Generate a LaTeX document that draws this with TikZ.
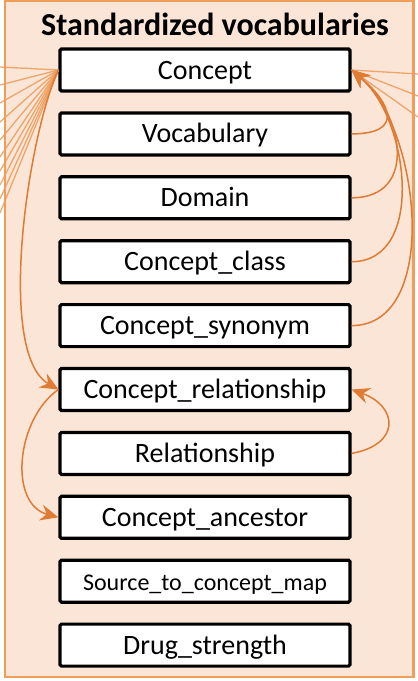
\documentclass[tikz,border=0pt]{standalone}
\usepackage{fontspec}
\setmainfont{Carlito}
\usetikzlibrary{arrows.meta}
\definecolor{framefill}{HTML}{FAE5D7}
\definecolor{framedraw}{HTML}{EE9D5B}
\definecolor{fanline}{HTML}{EC9A58}
\definecolor{arrowc}{HTML}{DF7B33}
\tikzset{
  tbl/.style={draw=black, line width=3.2pt, fill=white, rounded corners=1.5pt,
    minimum width=290pt, minimum height=42pt, inner sep=0pt,
    text height=18pt, text depth=0pt, font=\fontsize{28}{30}\selectfont},
  fan/.style={draw=fanline, line width=1.3pt, opacity=0.85},
  rel/.style={draw=arrowc, line width=1.5pt,
    -{Stealth[length=18pt,width=16pt,inset=6pt]}},
}
\begin{document}
\begin{tikzpicture}[x=1pt,y=1pt]
\useasboundingbox (0,0) rectangle (418,-681);
\fill[framefill] (5,-1) rectangle (413.5,-677);
% boxes
\node[tbl] (concept) at (205,-70) {Concept};
\node[tbl] (voc) at (205,-133.9) {Vocabulary};
\node[tbl] (dom) at (205,-197.8) {Domain};
\node[tbl] (cc) at (205,-261.7) {Concept\_class};
\node[tbl] (cs) at (205,-325.6) {Concept\_synonym};
\node[tbl] (cr) at (205,-389.5) {Concept\_relationship};
\node[tbl] (rel) at (205,-453.4) {Relationship};
\node[tbl] (ca) at (205,-517.3) {Concept\_ancestor};
\node[tbl, font=\fontsize{24}{26}\selectfont] (stcm) at (205,-581.2) {Source\_to\_concept\_map};
\node[tbl] (ds) at (205,-645.1) {Drug\_strength};
% title
\node[anchor=base, inner sep=0pt, font=\bfseries\fontsize{32}{34}\selectfont] (title) at (215,-35) {Standardized vocabularies};
% left fan
\foreach \yy [count=\i] in {67,85,103,122,140,157,171,185,199,213}{
  \coordinate (L\i) at (0,-\yy);
  \draw[fan] (concept.west) -- (L\i);
}
% right fan
\foreach \yy [count=\i] in {74,96,117}{
  \coordinate (R\i) at (418,-\yy);
  \draw[fan] (concept.east) -- (R\i);
}
% frame border
\draw[framedraw, line width=2.5pt] (5,-1) rectangle (413.5,-677);
% relationships
\draw[rel] (voc.east) to[out=0,in=-40,looseness=2.1] (concept.east);
\draw[rel] (dom.east) to[out=0,in=-40,looseness=1.35] (concept.east);
\draw[rel] (cc.east) to[out=0,in=-40,looseness=1.0] (concept.east);
\draw[rel] (cs.east) to[out=0,in=-40,looseness=0.9] (concept.east);
\draw[rel] (concept.west) to[out=245,in=150,looseness=0.58] (cr.west);
\draw[rel] (cr.west) to[out=215,in=165,looseness=1.04] (ca.west);
\draw[rel] (rel.east) to[out=10,in=-20,looseness=2.0] (cr.east);
\end{tikzpicture}
\end{document}
